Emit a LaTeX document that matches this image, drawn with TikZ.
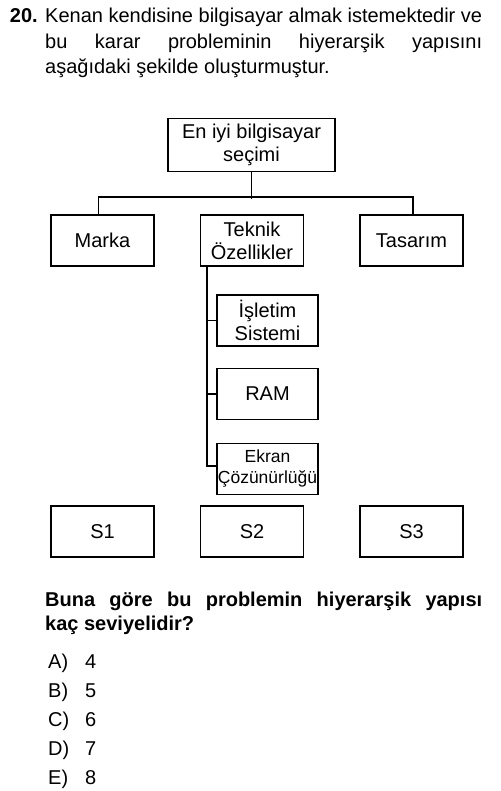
\documentclass[tikz,border=0pt]{standalone}
\usepackage{fontspec}
\setmainfont{Liberation Sans}
\usetikzlibrary{positioning}

\tikzset{
  txt/.style={anchor=base west, inner sep=0pt, font=\fontsize{20}{25}\selectfont},
  qtxt/.style={txt, font=\fontsize{20}{25}\selectfont\bfseries},
  box/.style={draw, line width=1.5pt, inner sep=0pt, align=center,
    minimum width=103pt, minimum height=51pt, font=\fontsize{20}{23}\selectfont},
  subbox/.style={box, minimum width=101pt},
  link/.style={line width=1.5pt},
}

\begin{document}
\begin{tikzpicture}[x=1pt, y=-1pt]

\useasboundingbox (0,0) rectangle (500,791);

% question text
\node[qtxt, anchor=base east] (num) at (38,23) {20.};
\node[txt] (l1) at (45,23) {\makebox[437pt][s]{Kenan kendisine bilgisayar almak istemektedir ve}};
\node[txt] (l2) at (45,48.5) {\makebox[437pt][s]{bu karar probleminin hiyerarşik yapısını}};
\node[txt] (l3) at (45,74) {aşağıdaki şekilde oluşturmuştur.};

% hierarchy
\node[box, minimum width=167pt, minimum height=53pt] (root) at (251.5,145) {En iyi bilgisayar\\seçimi};

\node[box] (marka) at (102.5,240.5) {Marka};
\node[box] (teknik) at (252,240.5) {Teknik\\Özellikler};
\node[box] (tasarim) at (411.5,240.5) {Tasarım};

\node[subbox] (isletim) at (267.5,320.5) {İşletim\\Sistemi};
\node[subbox] (ram) at (267.5,394) {RAM};
\node[subbox, font=\fontsize{17.5}{21}\selectfont] (ekran) at (267.5,469) {Ekran\\Çözünürlüğü};

\node[box] (s1) at (102.5,531.5) {S1};
\node[box] (s2) at (252,531.5) {S2};
\node[box] (s3) at (411.5,531.5) {S3};

\draw[link] (root.south) -- ++(0,27);
\draw[link] ([xshift=-4pt]marka.north) -- ++(0,-17) -| ([xshift=1.5pt]tasarim.north);

\draw[link] ([xshift=7pt]teknik.south west) |- ([yshift=3pt]ekran.west);
\draw[link] (isletim.west) -- ++(-10,0);
\draw[link] (ram.west) -- ++(-10,0);

% answer
\node[qtxt] (q1) at (45,606) {\makebox[437pt][s]{Buna göre bu problemin hiyerarşik yapısı}};
\node[qtxt] (q2) at (45,630) {kaç seviyelidir?};

\foreach \lab/\val [count=\i] in {A/4,B/5,C/6,D/7,E/8} {
  \node[txt] (opt\i) at (48,{668+(\i-1)*29}) {\lab)};
  \node[txt] (val\i) at (85,{668+(\i-1)*29}) {\val};
}

\end{tikzpicture}
\end{document}
